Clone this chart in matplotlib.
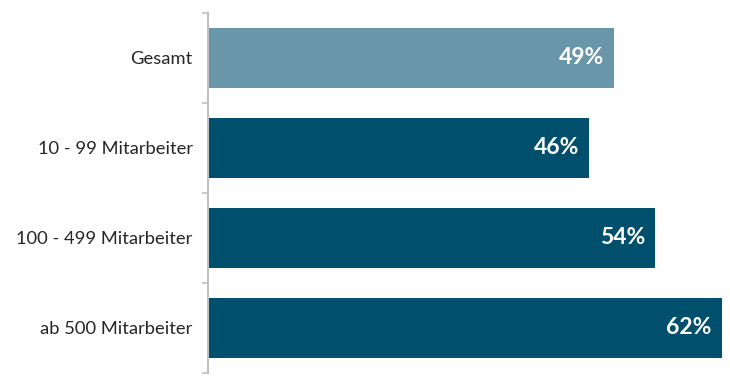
import matplotlib.pyplot as plt
import numpy as np

categories = ["Gesamt", "10 - 99 Mitarbeiter", "100 - 499 Mitarbeiter", "ab 500 Mitarbeiter"]
values = [49, 46, 54, 62]
colors = ["#6996a9", "#004f6c", "#004f6c", "#004f6c"]

plt.rcParams["font.family"] = ["Lato", "DejaVu Sans"]

fig = plt.figure(figsize=(7.3, 3.79), dpi=100)
ax = fig.add_axes([208 / 730, 6 / 379, 516 / 730, 360 / 379])

y = np.arange(len(categories))
ax.barh(y, values, height=0.667, color=colors, left=0)
for yi, v in zip(y, values):
    ax.text(v - 1.2, yi, f"{v}%", ha="right", va="center",
            color="white", fontsize=16.5, fontweight="bold")

ax.set_xlim(0, 62.3)
ax.set_ylim(3.5, -0.5)
ax.set_yticks(y)
ax.set_yticklabels(categories, fontsize=13.2, color="#262626")
ax.set_yticks(np.arange(-0.5, len(categories)), minor=True)
ax.tick_params(axis="y", which="major", length=0, pad=11)
ax.tick_params(axis="y", which="minor", length=4, width=1.2, color="#bfbfbf", direction="out")
ax.set_xticks([])
for s in ["top", "right", "bottom"]:
    ax.spines[s].set_visible(False)
ax.spines["left"].set_color("#bfbfbf")
ax.spines["left"].set_linewidth(1.5)

fig.savefig("out.png", dpi=100)
